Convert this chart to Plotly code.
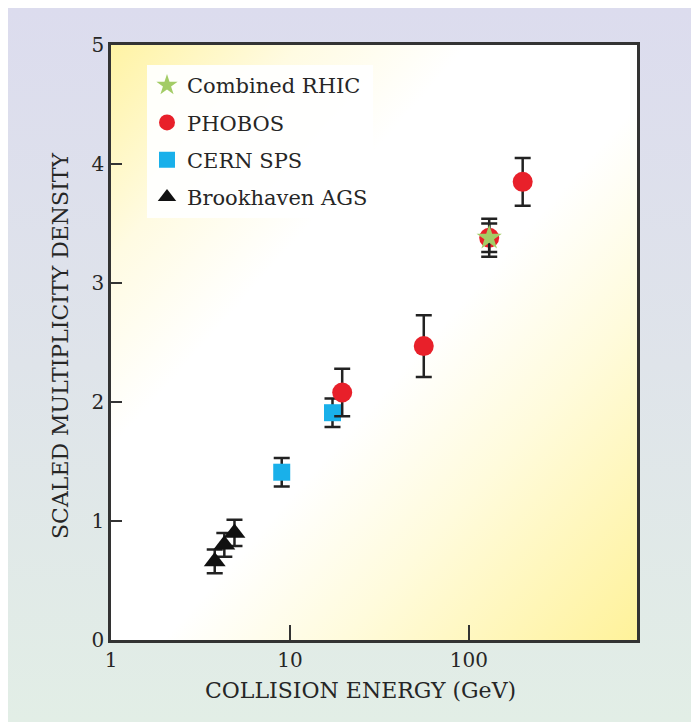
import base64
import plotly.graph_objects as go

# ---------------- data ----------------
ags_x = [3.8, 4.3, 4.9]
ags_y = [0.66, 0.80, 0.90]
ags_err = [0.10, 0.10, 0.11]

sps_x = [9.0, 17.3]
sps_y = [1.41, 1.91]
sps_err = [0.12, 0.12]

phobos_x = [19.6, 56.0, 130.0, 200.0]
phobos_y = [2.08, 2.47, 3.38, 3.85]
phobos_err = [0.20, 0.26, 0.16, 0.20]

rhic_x = [130.0]
rhic_y = [3.38]
rhic_err = [0.12]

x_tickvals = [1, 10, 100]
x_ticktext = ["1", "10", "100"]
y_tickvals = [0, 1, 2, 3, 4, 5]
y_ticktext = ["0", "1", "2", "3", "4", "5"]

# ---------------- layout constants (figure sits at 8,8 in the page) ----------------
W, H = 690, 714
ML, MR, MT, MB = 103, 61, 37, 82
PW, PH = W - ML - MR, H - MT - MB
FONT = "DejaVu Serif"
TXT = "#262626"
ERR = "#222222"


def svg_uri(svg):
    return "data:image/svg+xml;base64," + base64.b64encode(svg.encode()).decode()


fig_bg_svg = (
    '<svg xmlns="http://www.w3.org/2000/svg" width="100" height="100" viewBox="0 0 100 100" preserveAspectRatio="none">'
    '<defs><linearGradient id="g" x1="0" y1="0" x2="0" y2="1">'
    '<stop offset="0" stop-color="#dcdcee"/><stop offset="0.5" stop-color="#dfe4ea"/>'
    '<stop offset="1" stop-color="#e2eee6"/></linearGradient></defs>'
    '<rect x="0" y="0" width="100" height="100" fill="url(#g)"/></svg>'
)

plot_bg_svg = (
    '<svg xmlns="http://www.w3.org/2000/svg" width="100" height="100" viewBox="0 0 100 100" preserveAspectRatio="none">'
    '<defs><linearGradient id="p" x1="0" y1="0" x2="1" y2="1">'
    '<stop offset="0" stop-color="#fff3a4"/><stop offset="0.18" stop-color="#fffbe2"/>'
    '<stop offset="0.34" stop-color="#ffffff"/><stop offset="0.55" stop-color="#ffffff"/>'
    '<stop offset="0.72" stop-color="#fffbdc"/>'
    '<stop offset="1" stop-color="#fff29a"/></linearGradient></defs>'
    '<rect x="0" y="0" width="100" height="100" fill="url(#p)"/></svg>'
)

fig = go.Figure()

fig.add_trace(go.Scatter(
    x=ags_x, y=ags_y, mode="markers", name="Brookhaven AGS",
    legendgroup="ags", legendrank=4,
    marker=dict(symbol="triangle-up", size=19, color="#111111"),
    error_y=dict(type="data", array=ags_err, color=ERR, thickness=2.5, width=8),
))
fig.add_trace(go.Scatter(
    x=sps_x, y=sps_y, mode="markers", name="CERN SPS",
    legendgroup="sps", legendrank=3,
    marker=dict(symbol="square", size=17, color="#19b0ea"),
    error_y=dict(type="data", array=sps_err, color=ERR, thickness=2.5, width=8),
))
fig.add_trace(go.Scatter(
    x=phobos_x, y=phobos_y, mode="markers", name="PHOBOS",
    legendgroup="phobos", legendrank=2,
    marker=dict(symbol="circle", size=20, color="#e8202a"),
    error_y=dict(type="data", array=phobos_err, color=ERR, thickness=2.5, width=8),
))
fig.add_trace(go.Scatter(
    x=rhic_x, y=rhic_y, mode="markers", name="Combined RHIC",
    legendgroup="rhic", legendrank=1,
    marker=dict(symbol="star", size=19, color="#a3cc66"),
    error_y=dict(type="data", array=rhic_err, color=ERR, thickness=2.5, width=8),
))

fig.update_layout(
    width=W, height=H,
    margin=dict(l=ML, r=MR, t=MT, b=MB, pad=0),
    paper_bgcolor="#dfe4ea",
    plot_bgcolor="rgba(0,0,0,0)",
    font=dict(family=FONT, color=TXT, size=20),
    showlegend=True,
    legend=dict(
        x=(139 - ML) / PW, y=1 - (57 - MT) / PH, xanchor="left", yanchor="top",
        bgcolor="rgba(255,255,255,0.93)", borderwidth=0,
        font=dict(family=FONT, size=21, color=TXT),
        traceorder="grouped", tracegroupgap=7,
        itemclick=False,
    ),
    images=[
        dict(source=svg_uri(fig_bg_svg), xref="paper", yref="paper",
             x=-ML / PW, y=1 + MT / PH, sizex=W / PW, sizey=H / PH,
             xanchor="left", yanchor="top", sizing="stretch", layer="below"),
        dict(source=svg_uri(plot_bg_svg), xref="paper", yref="paper",
             x=0, y=1, sizex=1, sizey=1,
             xanchor="left", yanchor="top", sizing="stretch", layer="below"),
    ],
    xaxis=dict(
        type="log", range=[0, 2.94],
        tickvals=x_tickvals, ticktext=x_ticktext,
        ticks="inside", ticklen=15, tickwidth=2, tickcolor="#333333",
        showline=True, linecolor="#333333", linewidth=2.5, mirror=True,
        showgrid=False, zeroline=False,
        tickfont=dict(family=FONT, size=20, color=TXT),
    ),
    yaxis=dict(
        range=[0, 5],
        tickvals=y_tickvals, ticktext=y_ticktext,
        ticks="inside", ticklen=11, tickwidth=2, tickcolor="#333333",
        showline=True, linecolor="#333333", linewidth=2.5, mirror=True,
        showgrid=False, zeroline=False,
        tickfont=dict(family=FONT, size=20, color=TXT),
    ),
    annotations=[
        dict(text="COLLISION ENERGY (GeV)", xref="paper", yref="paper",
             x=(352 - ML) / PW, y=-(682 - MT - PH) / PH, xanchor="center", yanchor="middle",
             showarrow=False, font=dict(family=FONT, size=22, color=TXT)),
        dict(text="SCALED MULTIPLICITY DENSITY", xref="paper", yref="paper",
             x=-(ML - 52) / PW, y=1 - (338 - MT) / PH, xanchor="center", yanchor="middle",
             textangle=-90, showarrow=False, font=dict(family=FONT, size=22, color=TXT)),
    ],
)

fig.write_html("out.html")
